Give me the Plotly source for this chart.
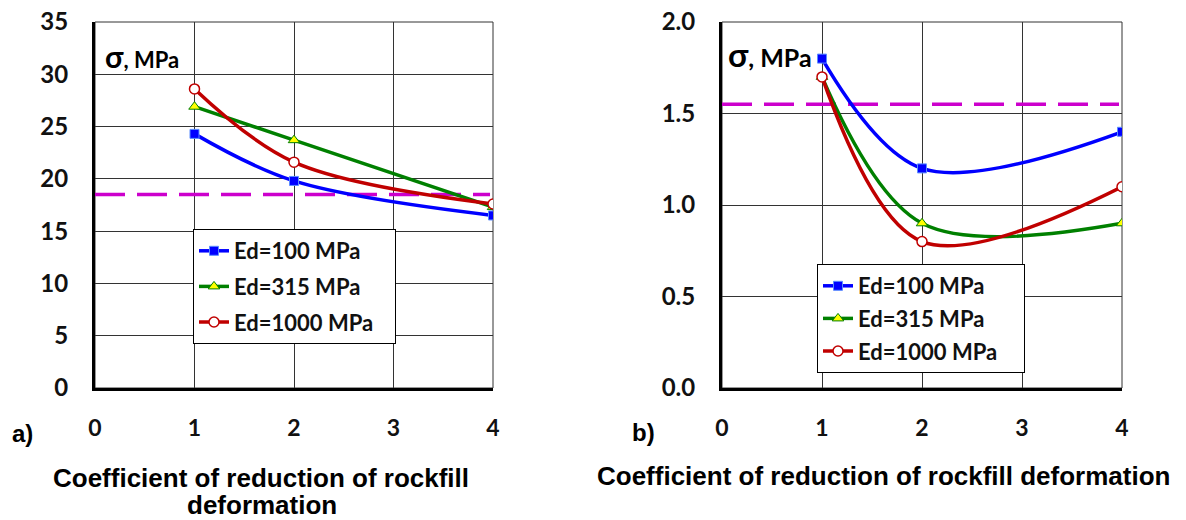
import plotly.graph_objects as go

W, H = 1186, 520

# ---- data ----
x_coef = [1, 2, 4]
series_names = ["Ed=100 MPa", "Ed=315 MPa", "Ed=1000 MPa"]
left_ed100 = [24.3, 19.8, 16.5]
left_ed315 = [26.9, 23.7, 17.3]
left_ed1000 = [28.6, 21.6, 17.6]
right_ed100 = [1.8, 1.2, 1.4]
right_ed315 = [1.7, 0.9, 0.9]
right_ed1000 = [1.7, 0.8, 1.1]
limit_x = [0, 3.97]
left_limit = [18.5, 18.5]
right_limit = [1.55, 1.55]
x_ticks = [0, 1, 2, 3, 4]
left_y_ticks = [0, 5, 10, 15, 20, 25, 30, 35]
right_y_ticks = [0.0, 0.5, 1.0, 1.5, 2.0]
right_y_text = ["0.0", "0.5", "1.0", "1.5", "2.0"]

line_colors = ["#0000FF", "#008000", "#C00000"]
markers = [
    dict(symbol="square", size=9, color="#0000FF", line=dict(color="#5B8CFF", width=1)),
    dict(symbol="triangle-up", size=10, color="#FFFF00", line=dict(color="#008000", width=1)),
    dict(symbol="circle", size=10, color="#FFFFFF", line=dict(color="#C00000", width=1.5)),
]

fig = go.Figure()

def px_x(p):
    return p / W

def px_y(p):
    return 1 - p / H

# domains
xd_left = [px_x(95), px_x(493)]
xd_right = [px_x(722), px_x(1122)]
yd = [px_y(388), px_y(22)]

# limit lines
fig.add_trace(go.Scatter(x=limit_x, y=left_limit, mode="lines", showlegend=False,
                         line=dict(color="#CC00CC", width=3.5, dash="30px,12px"),
                         xaxis="x", yaxis="y"))
fig.add_trace(go.Scatter(x=limit_x, y=right_limit, mode="lines", showlegend=False,
                         line=dict(color="#CC00CC", width=3.5, dash="30px,12px"),
                         xaxis="x2", yaxis="y2"))

# trailing non-breaking spaces widen the legend boxes like the reference
left_pad = ["", "", "\u00a0\u00a0\u00a0"]
right_pad = ["", "", "\u00a0\u00a0\u00a0\u00a0"]

left_data = [left_ed100, left_ed315, left_ed1000]
right_data = [right_ed100, right_ed315, right_ed1000]
for i, name in enumerate(series_names):
    fig.add_trace(go.Scatter(x=x_coef, y=left_data[i], mode="lines+markers", name=name + left_pad[i],
                             line=dict(color=line_colors[i], width=3.5, shape="spline", smoothing=1),
                             marker=markers[i], xaxis="x", yaxis="y", legend="legend",
                             legendgroup="l%d" % i))
for i, name in enumerate(series_names):
    fig.add_trace(go.Scatter(x=x_coef, y=right_data[i], mode="lines+markers", name=name + right_pad[i],
                             line=dict(color=line_colors[i], width=3.5, shape="spline", smoothing=1),
                             marker=markers[i], xaxis="x2", yaxis="y2", legend="legend2",
                             legendgroup="r%d" % i))

ytick_font = dict(family="Lato", size=24, color="#111111", weight="bold")
xtick_font = dict(family="Lato", size=23, color="#111111", weight="bold")
title_font = dict(family="Liberation Sans", size=26, color="#000000", weight="bold")
grid_col = "#333333"

common_x = dict(range=[0, 4], tickvals=x_ticks, showgrid=True, gridcolor=grid_col, gridwidth=1,
                showline=True, linecolor="black", linewidth=3, zeroline=False,
                tickfont=xtick_font, ticklabelstandoff=17, automargin=False, fixedrange=True)
common_y = dict(showgrid=True, gridcolor=grid_col, gridwidth=1, showline=True, linecolor="black",
                linewidth=3, zeroline=False, tickfont=ytick_font, ticklabelstandoff=19,
                automargin=False, fixedrange=True)

legend_font = dict(family="Lato", size=22, color="#111111", weight="bold")

fig.update_layout(
    width=W, height=H,
    margin=dict(l=0, r=0, t=0, b=0),
    paper_bgcolor="white", plot_bgcolor="white",
    xaxis=dict(domain=xd_left, anchor="y", **common_x),
    yaxis=dict(domain=yd, anchor="x", range=[0, 35], tickvals=left_y_ticks, **common_y),
    xaxis2=dict(domain=xd_right, anchor="y2", **common_x),
    yaxis2=dict(domain=yd, anchor="x2", range=[0, 2.0], tickvals=right_y_ticks,
                ticktext=right_y_text, **common_y),
    legend=dict(x=px_x(193), y=px_y(229), xanchor="left", yanchor="top",
                bgcolor="white", bordercolor="black", borderwidth=1, font=legend_font,
                traceorder="grouped", tracegroupgap=4),
    legend2=dict(x=px_x(817), y=px_y(264), xanchor="left", yanchor="top",
                 bgcolor="white", bordercolor="black", borderwidth=1, font=legend_font,
                 traceorder="grouped", tracegroupgap=1),
    showlegend=True,
)

# thin frame for top/right edges
for xr, yr in [("x domain", "y domain"), ("x2 domain", "y2 domain")]:
    fig.add_shape(type="rect", xref=xr, yref=yr, x0=0, x1=1, y0=0, y1=1,
                  line=dict(color=grid_col, width=1), layer="below")

label_font = dict(family="Liberation Sans", size=24, color="black", weight="bold")
annots = [
    dict(text="Coefficient of reduction of rockfill", x=px_x(261), y=px_y(478),
         font=title_font, xanchor="center", yanchor="middle"),
    dict(text="deformation", x=px_x(262), y=px_y(505),
         font=title_font, xanchor="center", yanchor="middle"),
    dict(text="Coefficient of reduction of rockfill deformation", x=px_x(883), y=px_y(476),
         font=title_font, xanchor="center", yanchor="middle"),
    dict(text="a)", x=px_x(22), y=px_y(433), font=label_font, xanchor="center", yanchor="middle"),
    dict(text="b)", x=px_x(643), y=px_y(432), font=label_font, xanchor="center", yanchor="middle"),
    dict(text="<span style='font-size:30px'>σ</span>, MPa", x=px_x(103), y=px_y(56),
         font=dict(family="Lato", size=22, color="black", weight="bold"), xanchor="left", yanchor="middle"),
    dict(text="<span style='font-size:33px'>σ</span>, MPa", x=px_x(726), y=px_y(54),
         font=dict(family="Lato", size=25, color="black", weight="bold"), xanchor="left", yanchor="middle"),
]
for a in annots:
    fig.add_annotation(xref="paper", yref="paper", showarrow=False, **a)

fig.write_html("out.html", config={"displayModeBar": False},
               post_script="document.body.style.margin='0';document.body.style.padding='0';")
